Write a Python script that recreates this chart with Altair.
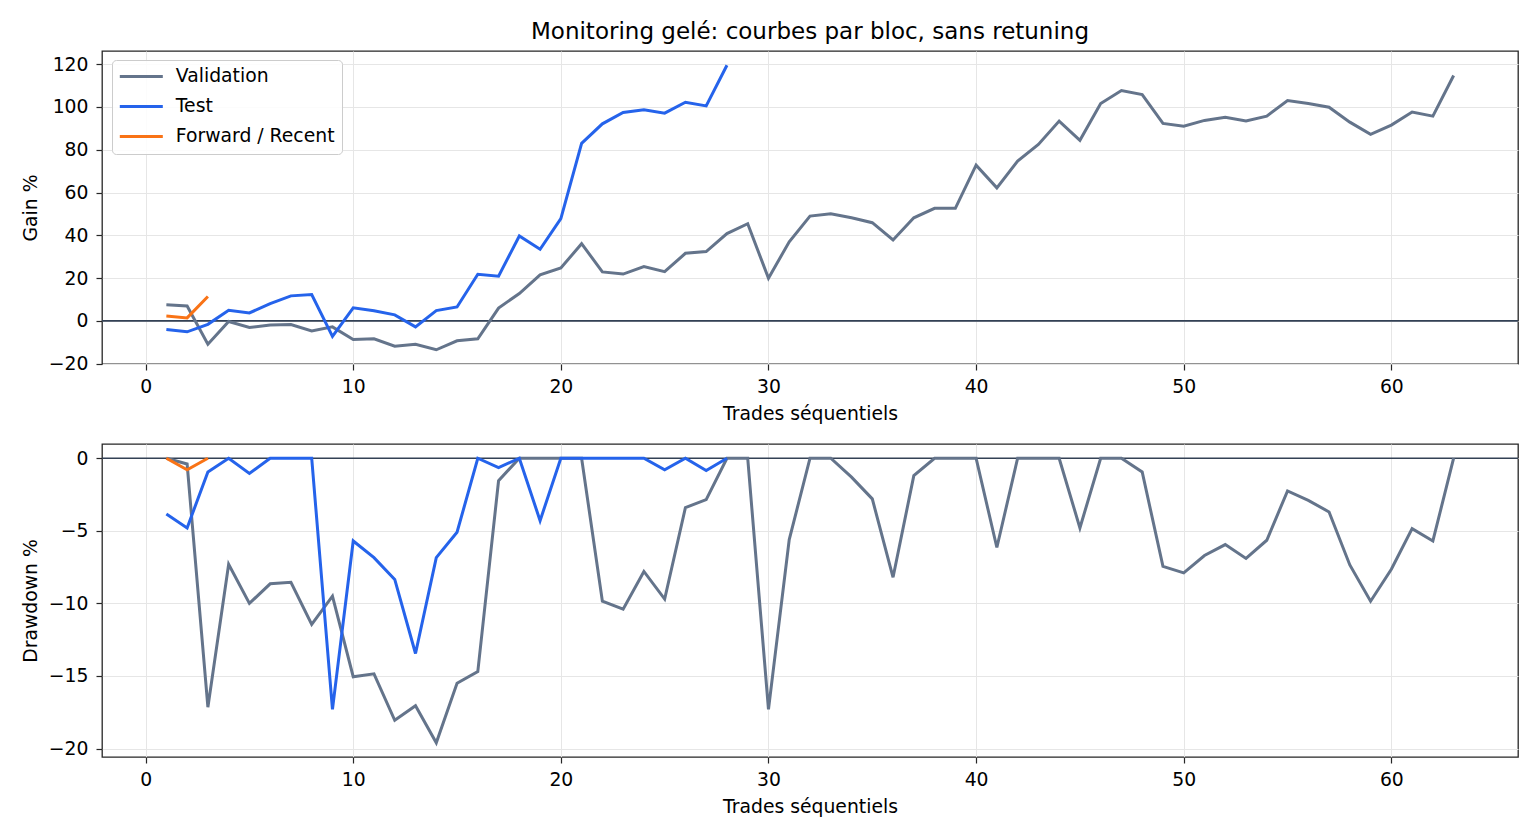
import altair as alt
import pandas as pd

# ---------------- data ----------------
series_names = ["Validation", "Test", "Forward / Recent"]
series_colors = ["#64748b", "#2563eb", "#f97316"]

val_trades = list(range(1, 64))
val_gain = [7.5, 7.0, -10.9, -0.3, -3.1, -1.9, -1.7, -4.7, -2.8, -8.7,
            -8.4, -11.8, -10.9, -13.5, -9.3, -8.4, 6.0, 12.8, 21.5, 24.7,
            36.1, 22.9, 21.9, 25.4, 23.0, 31.6, 32.4, 40.8, 45.4, 19.9,
            37.0, 49.0, 50.1, 48.2, 45.9, 37.8, 48.2, 52.6, 52.6, 72.8,
            62.2, 74.7, 82.5, 93.4, 84.4, 101.6, 107.7, 105.8, 92.3, 91.0,
            93.7, 95.2, 93.4, 95.7, 103.0, 101.6, 99.9, 92.9, 87.2, 91.5,
            97.6, 95.7, 114.7]
val_dd = [0.0, -0.4, -17.15, -7.3, -10.0, -8.65, -8.55, -11.45, -9.5, -15.05,
          -14.85, -18.05, -17.05, -19.6, -15.5, -14.7, -1.55, 0.0, 0.0, 0.0,
          0.0, -9.85, -10.4, -7.8, -9.7, -3.4, -2.85, 0.0, 0.0, -17.3,
          -5.6, 0.0, 0.0, -1.3, -2.8, -8.2, -1.2, 0.0, 0.0, 0.0,
          -6.15, 0.0, 0.0, 0.0, -4.8, 0.0, 0.0, -0.95, -7.45, -7.9,
          -6.7, -5.95, -6.9, -5.65, -2.25, -2.9, -3.7, -7.35, -9.85, -7.65,
          -4.85, -5.7, 0.0]

test_trades = list(range(1, 29))
test_gain = [-4.0, -5.1, -1.6, 5.0, 3.7, 8.1, 11.7, 12.3, -7.2, 6.1,
             4.7, 2.8, -2.8, 4.8, 6.5, 21.8, 20.9, 39.7, 33.5, 47.8,
             83.0, 92.1, 97.4, 98.7, 97.1, 102.2, 100.5, 119.5]
test_dd = [-3.85, -4.8, -0.95, 0.0, -1.05, 0.0, 0.0, 0.0, -17.3, -5.7,
           -6.85, -8.35, -13.45, -6.85, -5.1, 0.0, -0.65, 0.0, -4.3, 0.0,
           0.0, 0.0, 0.0, 0.0, -0.8, 0.0, -0.85, 0.0]

fwd_trades = [1, 2, 3]
fwd_gain = [2.3, 1.4, 11.4]
fwd_dd = [0.0, -0.8, 0.0]

x_ticks = [0, 10, 20, 30, 40, 50, 60]
gain_ticks = [-20, 0, 20, 40, 60, 80, 100, 120]
dd_ticks = [-20, -15, -10, -5, 0]

# ---------------- tables ----------------
rows = []
for name, trades, gains, dds in [
    ("Validation", val_trades, val_gain, val_dd),
    ("Test", test_trades, test_gain, test_dd),
    ("Forward / Recent", fwd_trades, fwd_gain, fwd_dd),
]:
    for t, g, d in zip(trades, gains, dds):
        rows.append({"serie": name, "trade": t, "gain": g, "dd": d})
df = pd.DataFrame(rows)
zero_df = pd.DataFrame({"y": [0]})

FONT = "DejaVu Sans"
FS = 18.8
W, H = 1416, 313

x_enc = alt.X(
    "trade:Q",
    scale=alt.Scale(domain=[-2.1, 66.1], nice=False, zero=False),
    axis=alt.Axis(values=x_ticks, title="Trades séquentiels", format="d"),
)

color_top = alt.Color(
    "serie:N",
    scale=alt.Scale(domain=series_names, range=series_colors),
    legend=alt.Legend(
        title=None,
        orient="none",
        legendX=10,
        legendY=9,
        fillColor="rgba(255,255,255,0.85)",
        strokeColor="#cccccc",
        cornerRadius=4,
        padding=7,
        symbolType="M-2,0H8",
        symbolSize=74,
        symbolStrokeWidth=3,
        labelFont=FONT,
        labelFontSize=FS,
        labelColor="#000000",
        labelOffset=38,
        rowPadding=10,
    ),
)
color_bot = alt.Color(
    "serie:N",
    scale=alt.Scale(domain=series_names, range=series_colors),
    legend=None,
)

zero_top = alt.Chart(zero_df).mark_rule(color="#334155", strokeWidth=1.6).encode(y="y:Q")
zero_bot = alt.Chart(zero_df).mark_rule(color="#334155", strokeWidth=1.6).encode(y="y:Q")

lines_top = alt.Chart(df).mark_line(strokeWidth=3).encode(
    x=x_enc,
    y=alt.Y(
        "gain:Q",
        scale=alt.Scale(domain=[-20.15, 126.15], nice=False, zero=False),
        axis=alt.Axis(values=gain_ticks, title="Gain %", format="d"),
    ),
    color=color_top,
    order="trade:Q",
)

lines_bot = alt.Chart(df).mark_line(strokeWidth=3).encode(
    x=x_enc,
    y=alt.Y(
        "dd:Q",
        scale=alt.Scale(domain=[-20.58, 0.98], nice=False, zero=False),
        axis=alt.Axis(values=dd_ticks, title="Drawdown %", format="d"),
    ),
    color=color_bot,
    order="trade:Q",
)

top = alt.layer(zero_top, lines_top).properties(
    width=W,
    height=H,
    title=alt.TitleParams(
        "Monitoring gelé: courbes par bloc, sans retuning",
        font=FONT,
        fontSize=23,
        fontWeight="normal",
        color="#000000",
        anchor="middle",
        frame="group",
        offset=7,
    ),
)
bot = alt.layer(zero_bot, lines_bot).properties(width=W, height=H)

chart = (
    alt.vconcat(top, bot, spacing=18)
    .resolve_scale(color="independent")
    .resolve_legend(color="independent")
    .properties(padding={"left": 12, "top": 12, "right": 5, "bottom": 5})
    .configure(background="white")
    .configure_view(stroke="#262626", strokeWidth=1.3)
    .configure_axis(
        domain=False,
        grid=True,
        gridColor="#e6e6e6",
        gridWidth=1,
        tickColor="#262626",
        tickSize=6,
        tickWidth=1.2,
        labelFont=FONT,
        labelFontSize=FS,
        labelColor="#000000",
        labelPadding=7,
        titleFont=FONT,
        titleFontSize=FS,
        titleFontWeight="normal",
        titleColor="#000000",
    )
    .configure_axisY(minExtent=52, maxExtent=52, titlePadding=10, labelPadding=8)
    .configure_axisX(titlePadding=9)
)

chart.save("out.html", embed_options={"renderer": "svg", "actions": False})
